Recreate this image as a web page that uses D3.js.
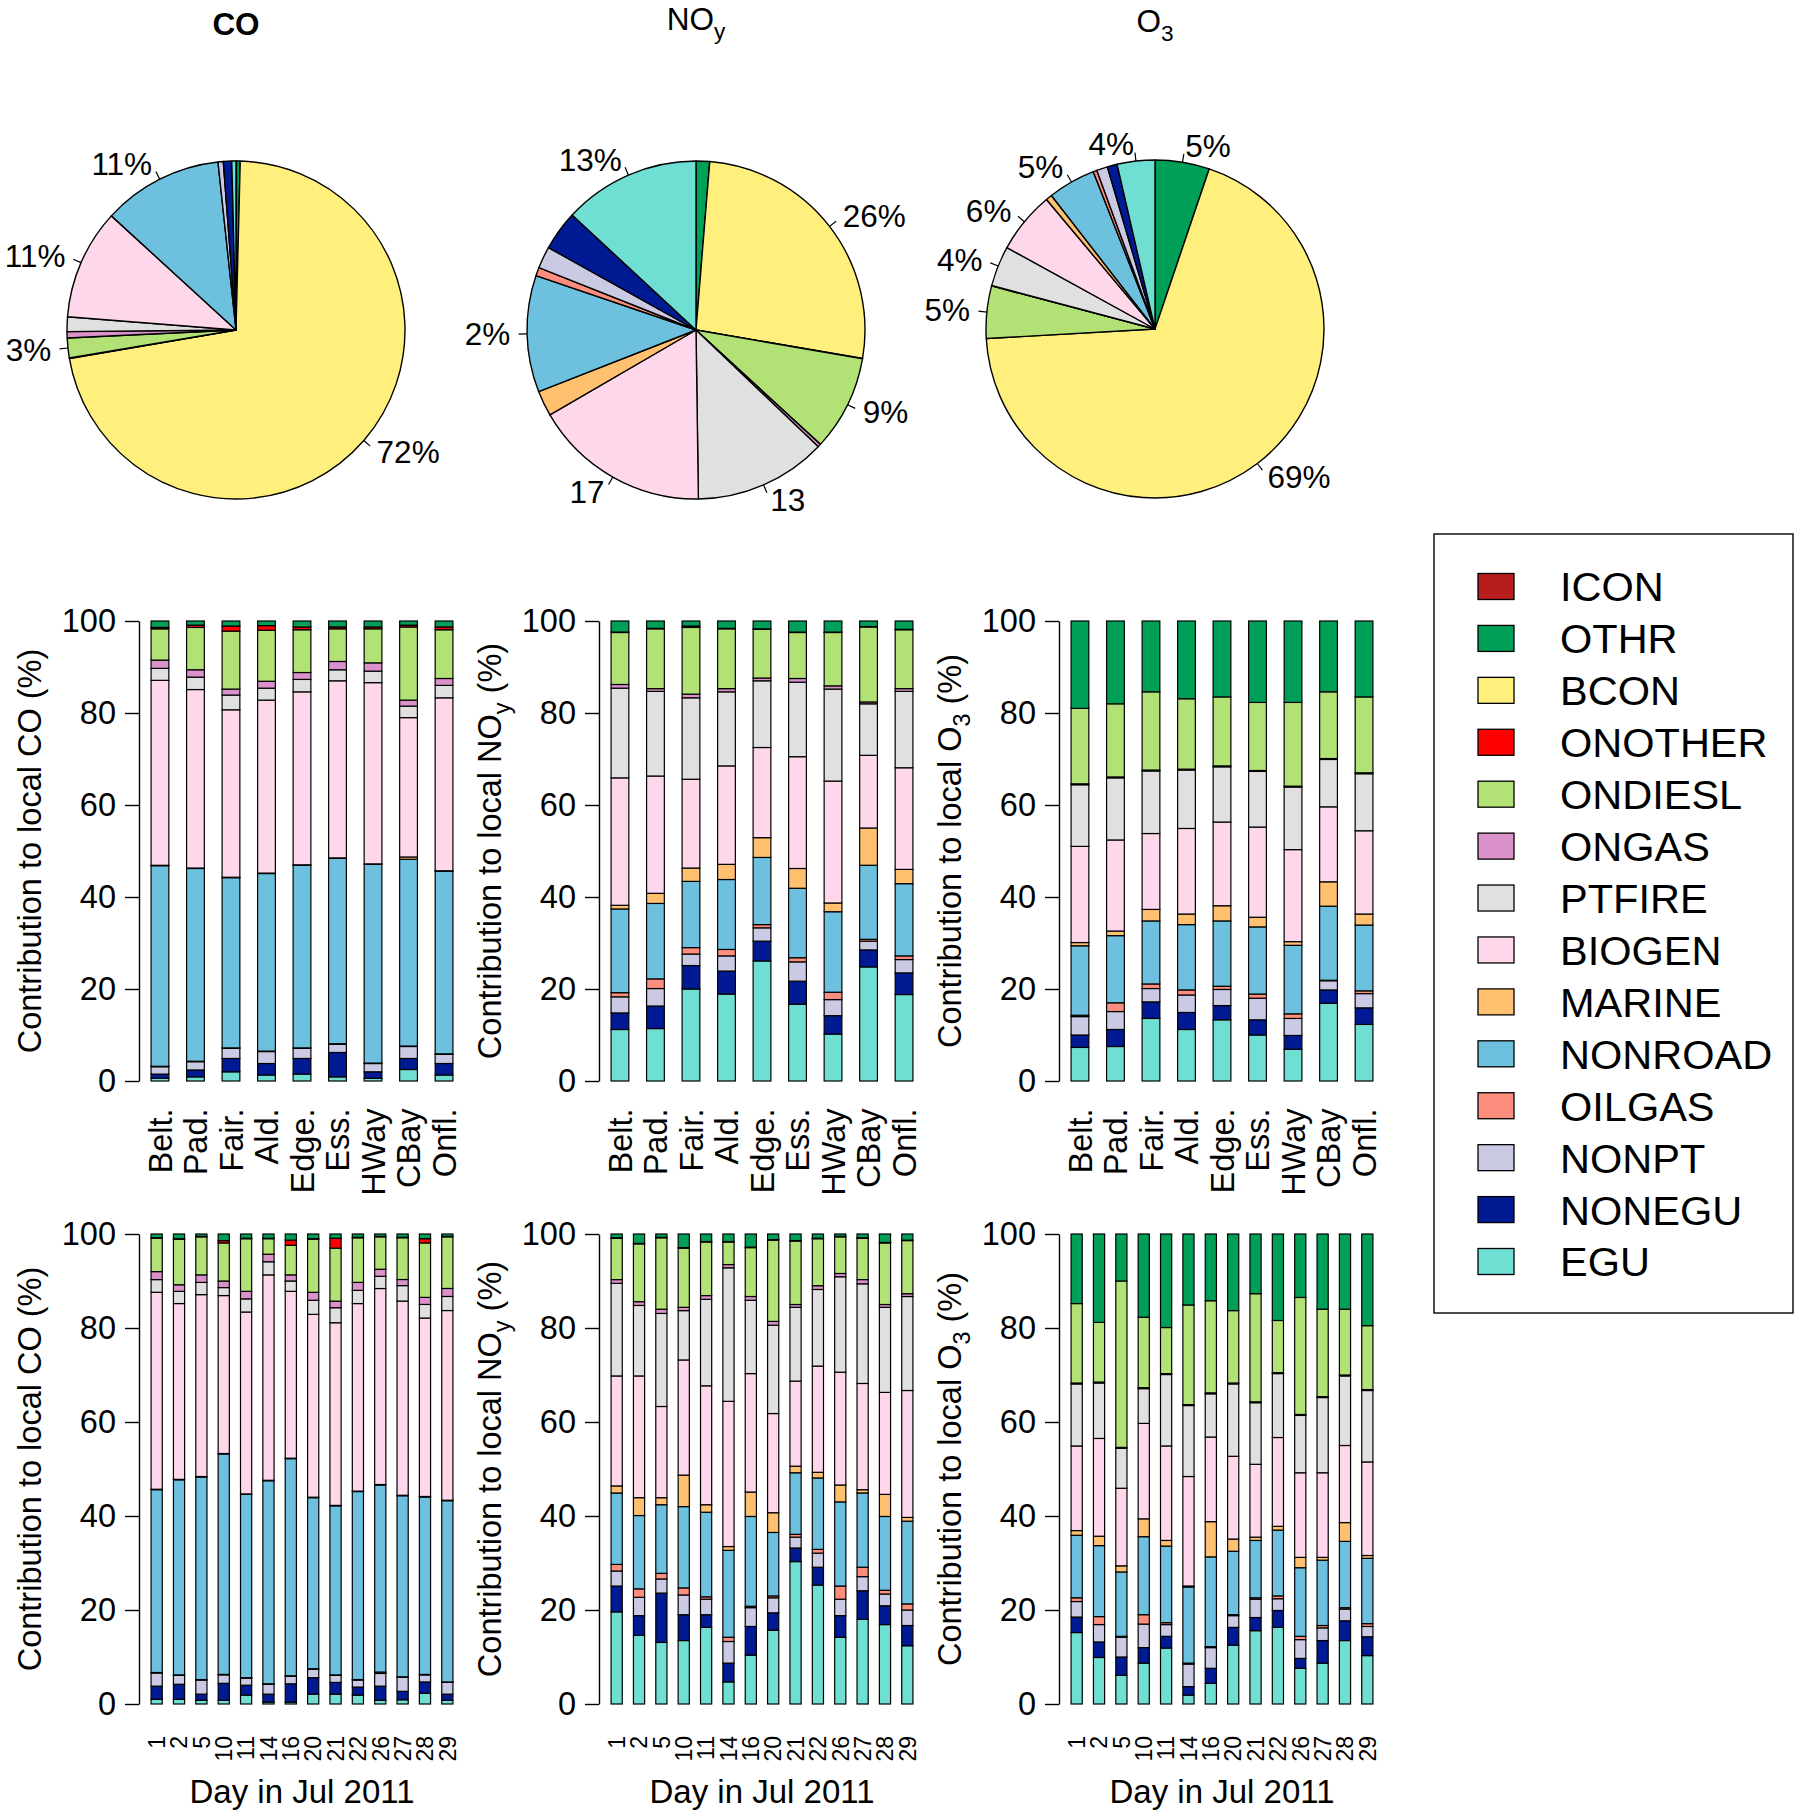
<!DOCTYPE html>
<html><head><meta charset="utf-8">
<script src="https://cdn.jsdelivr.net/npm/d3@7"></script>
<style>
body{margin:0;background:#fff}
svg{display:block}
text{font-family:"Liberation Sans",Arial,Helvetica,sans-serif;fill:#000}
</style>
</head><body>
<svg id="c" width="1800" height="1816"></svg>
<script>
// ---------- categories ----------
const sources = ["ICON","OTHR","BCON","ONOTHER","ONDIESL","ONGAS","PTFIRE","BIOGEN","MARINE","NONROAD","OILGAS","NONPT","NONEGU","EGU"];
const sourceColors = ["#B81D1D","#009F58","#FFEF7C","#FF0000","#B2E276","#DB92CB","#E0E0E0","#FFD7EA","#FFC06F","#6DC1DF","#FD8D7D","#CBCAE4","#001A94","#70DFD3"];
const stackKeys = ["EGU","NONEGU","NONPT","OILGAS","NONROAD","MARINE","BIOGEN","PTFIRE","ONGAS","ONDIESL","ONOTHER","OTHR"];
const sites = ["Belt.","Pad.","Fair.","Ald.","Edge.","Ess.","HWay","CBay","Onfl."];
const days = ["1","2","5","10","11","14","16","20","21","22","26","27","28","29"];
const yTicks = [0,20,40,60,80,100];

// ---------- pie values (order = sources) ----------
const pieCO  = [0.05,0.35,71.9,0.05,1.9,0.6,1.4,10.55,0,11.5,0,0.5,0.8,0.4];
const pieCOLabels  = ["","","72%","","3%","","","11%","","11%","","","",""];
const pieNOy = [0,1.3,26.4,0.05,9.1,0.3,12.65,16.85,2.45,11.15,0.8,2.1,3.8,13.1];
const pieNOyLabels = ["","","26%","","9%","","13","17","","2%","","","","13%"];
const pieO3  = [0,5.2,68.9,0,5.0,0.05,3.85,5.9,0.6,4.55,0.35,1.05,0.95,3.6];
const pieO3Labels  = ["","5%","69%","","5%","","4%","6%","","5%","","","","4%"];

// ---------- bar values: one row per bar, columns in stackKeys order ----------
const coSiteRows = [
 [0.6,0.9,1.6,0.1,43.6,0.1,40.2,2.6,1.8,6.8,0.3,1.4],
 [0.9,1.5,1.8,0.1,41.9,0.1,38.8,2.7,1.6,9.2,0.5,0.9],
 [2.0,2.9,2.2,0.1,37.0,0.1,36.4,3.2,1.3,12.6,1.1,1.1],
 [1.3,2.5,2.6,0.1,38.6,0.1,37.6,2.6,1.5,11.1,1.0,1.0],
 [1.5,3.4,2.2,0.1,39.7,0.1,37.6,2.7,1.5,9.3,0.6,1.3],
 [0.9,5.3,1.8,0.1,40.3,0.1,38.5,2.4,1.8,7.1,0.4,1.3],
 [0.6,1.4,1.8,0.1,43.2,0.1,39.4,2.5,1.8,7.4,0.4,1.3],
 [2.5,2.4,2.6,0.1,40.6,0.5,30.3,2.5,1.3,15.9,0.4,0.9],
 [1.3,2.5,2.0,0.1,39.7,0.1,37.6,2.7,1.5,10.6,0.6,1.3]
];
const noySiteRows = [
 [11.2,3.6,3.5,0.9,18.2,0.8,27.7,19.5,0.8,11.3,0.1,2.4],
 [11.4,4.9,3.8,2.1,16.4,2.2,25.5,18.4,0.6,13.0,0.1,1.6],
 [20.0,5.1,2.5,1.4,14.4,2.9,19.3,17.7,0.8,14.5,0.3,1.1],
 [18.9,5.0,3.3,1.4,15.2,3.3,21.4,16.1,0.7,13.0,0.1,1.6],
 [26.1,4.3,2.9,0.7,14.6,4.3,19.6,14.5,0.6,10.6,0.1,1.7],
 [16.7,5.0,4.2,0.9,15.1,4.3,24.3,16.2,0.8,10.0,0.1,2.4],
 [10.2,4.0,3.5,1.6,17.5,1.9,26.5,20.0,0.7,11.6,0.1,2.4],
 [24.8,3.7,1.9,0.4,16.1,8.1,15.8,11.2,0.4,16.3,0.1,1.2],
 [18.8,4.7,2.9,0.8,15.7,3.1,22.1,16.6,0.6,12.8,0.1,1.8]
];
const o3SiteRows = [
 [7.3,2.7,4.0,0.3,15.1,0.7,20.9,13.4,0.2,16.4,0,19.0],
 [7.5,3.7,3.9,1.9,14.6,1.0,19.8,13.5,0.2,15.9,0,18.0],
 [13.6,3.6,2.9,1.0,13.7,2.5,16.5,13.6,0.2,17.0,0,15.4],
 [11.2,3.7,3.8,1.1,14.2,2.3,18.6,12.7,0.2,15.3,0,16.9],
 [13.3,3.1,3.5,0.7,14.2,3.3,18.2,12.0,0.2,15.0,0,16.5],
 [10.0,3.3,4.7,0.9,14.6,2.1,19.6,12.1,0.2,14.8,0,17.7],
 [6.9,3.0,3.7,1.0,14.9,0.8,20.0,13.6,0.2,18.2,0,17.7],
 [16.9,2.9,2.0,0.1,16.1,5.3,16.3,10.3,0.2,14.5,0,15.4],
 [12.3,3.6,3.1,0.6,14.3,2.4,18.1,12.4,0.2,16.5,0,16.5]
];
const coDayRows = [
 [1.0,2.8,2.8,0.1,38.9,0.1,41.9,2.7,1.7,7.1,0.1,0.8],
 [1.0,3.2,1.9,0.1,41.5,0.1,37.4,2.6,1.4,9.7,0.1,1.0],
 [0.8,1.3,3.0,0.1,43.1,0.1,38.7,2.6,1.6,8.1,0.1,0.5],
 [0.8,3.6,1.8,0.1,46.9,0.1,33.6,1.7,1.4,8.1,0.5,1.4],
 [1.9,2.1,1.5,0.1,39.0,0.1,38.7,2.8,1.6,11.2,0.1,0.9],
 [0.4,1.7,2.1,0.1,43.2,0.1,43.7,2.8,1.6,3.3,0.1,0.9],
 [0.4,3.9,1.6,0.1,46.2,0.1,35.5,2.2,1.3,6.3,1.1,1.3],
 [2.1,3.5,1.8,0.1,36.4,0.1,38.9,3.0,1.7,11.3,0.1,1.0],
 [2.1,2.5,1.5,0.1,36.0,0.1,38.9,3.2,1.4,11.3,2.1,0.9],
 [1.9,1.7,1.5,0.1,40.0,0.1,39.9,2.8,1.7,9.5,0.1,0.7],
 [0.8,3.0,2.7,0.3,39.8,0.1,41.7,2.6,1.5,6.9,0.1,0.5],
 [0.9,1.8,3.0,0.1,38.6,0.1,41.4,3.3,1.3,8.9,0.1,0.7],
 [2.3,2.4,1.5,0.1,37.8,0.1,38.0,2.9,1.5,11.6,0.9,1.0],
 [0.8,1.3,2.5,0.1,38.6,0.1,40.4,3.0,1.7,11.0,0.1,0.5]
];
const noyDayRows = [
 [19.6,5.5,3.2,1.4,15.2,1.5,23.4,19.7,0.8,8.8,0.1,0.8],
 [14.6,4.2,3.9,1.8,15.6,3.8,25.9,15.0,0.8,12.3,0.1,2.0],
 [13.1,10.5,3.0,1.2,14.6,1.5,19.4,19.8,0.9,15.2,0.1,0.7],
 [13.5,5.5,4.2,1.5,17.3,6.7,24.5,10.5,0.7,12.6,0.1,2.9],
 [16.3,2.7,3.3,0.5,18.0,1.6,25.3,18.4,0.8,11.4,0.1,1.6],
 [4.7,4.0,4.6,0.9,18.5,0.8,30.9,28.4,0.7,4.8,0.1,1.6],
 [10.4,6.1,4.0,0.3,19.1,5.2,25.2,15.6,0.8,10.4,0.1,2.8],
 [15.7,3.7,3.2,0.4,13.5,4.2,21.1,18.8,0.8,17.3,0.1,1.2],
 [30.3,2.9,2.3,0.6,13.1,1.4,18.1,15.7,0.6,13.5,0.1,1.4],
 [25.3,3.8,3.0,0.8,15.2,1.2,22.6,16.3,0.8,10.0,0.1,0.9],
 [14.2,4.6,3.5,2.8,17.9,3.6,24.0,20.3,0.7,7.8,0.1,0.5],
 [18.0,6.1,3.0,2.0,15.8,0.7,22.6,21.2,0.9,8.8,0.1,0.8],
 [16.9,4.0,2.5,0.8,15.7,4.7,21.7,18.1,0.6,13.1,0.1,1.8],
 [12.4,4.3,3.3,1.3,17.6,0.8,27.0,20.0,0.6,11.3,0.1,1.3]
];
const o3DayRows = [
 [15.2,3.3,3.3,0.8,13.3,1.0,18.0,13.2,0.2,16.9,0,14.8],
 [9.9,3.3,3.7,1.7,15.1,2.0,20.8,11.8,0.2,12.7,0,18.8],
 [6.1,3.9,4.2,0.2,13.7,1.3,16.5,8.5,0.2,35.4,0,10.0],
 [8.7,3.3,5.0,2.0,16.6,3.8,20.3,7.4,0.2,15.0,0,17.7],
 [11.9,2.5,2.5,0.4,16.3,1.2,20.1,15.2,0.2,9.8,0,19.9],
 [1.9,1.8,4.8,0.2,16.2,0.2,23.3,15.1,0.2,21.2,0,15.1],
 [4.4,3.2,4.4,0.2,19.1,7.5,18.0,9.2,0.2,19.6,0,14.2],
 [12.5,3.8,2.5,0.2,13.5,2.6,17.6,15.4,0.2,15.4,0,16.3],
 [15.6,2.8,3.9,0.3,12.2,0.7,15.5,13.1,0.2,23.0,0,12.7],
 [16.3,3.6,2.5,0.6,14.0,0.8,18.9,13.6,0.2,11.1,0,18.4],
 [7.6,2.1,4.0,0.7,14.6,2.2,18.0,12.2,0.2,24.9,0,13.5],
 [8.7,4.8,2.7,0.5,13.9,0.6,18.0,16.0,0.2,18.6,0,16.0],
 [13.5,4.2,2.5,0.3,14.1,4.0,16.4,14.8,0.2,14.0,0,16.0],
 [10.3,4.0,2.2,0.6,13.9,0.6,19.9,15.2,0.2,13.6,0,19.5]
];

// ---------- text pieces ----------
const ylabCO  = [["Contribution to local CO (%)",false]];
const ylabNOy = [["Contribution to local NO",false],["y",true],[" (%)",false]];
const ylabO3  = [["Contribution to local O",false],["3",true],[" (%)",false]];

// ---------- drawing ----------
const svg = d3.select("#c");
const color = d3.scaleOrdinal().domain(sources).range(sourceColors);
const colX = [139, 599, 1059];
const pieCX = [236, 696, 1155];
const PLOT_W = 326;
const FS = 32.5;

function rich(sel, parts, size) {
  parts.forEach(([t, sub], i) => {
    const ts = sel.append("tspan").text(t);
    if (sub) ts.attr("font-size", size * 0.72).attr("dy", size * 0.28);
    else if (i > 0 && parts[i - 1][1]) ts.attr("dy", -size * 0.28);
  });
}

function drawPie(vals, labels, cx, cy, titleParts, titleY, bold) {
  const r = 169;
  const arcs = d3.pie().sort(null).value(d => d)(vals);
  const arc = d3.arc().innerRadius(0).outerRadius(r);
  const g = svg.append("g").attr("transform", `translate(${cx},${cy})`);
  const items = arcs.map((a, i) => ({a, i}));
  g.selectAll("path").data(items.filter(d => d.a.value > 0)).join("path")
    .attr("d", d => arc(d.a))
    .attr("fill", d => color(sources[d.i]))
    .attr("stroke", "#000").attr("stroke-width", 1.4).attr("stroke-linejoin", "round");
  items.forEach(({a, i}) => {
    if (!labels[i]) return;
    const m = (a.startAngle + a.endAngle) / 2;
    const sx = Math.sin(m), sy = -Math.cos(m);
    g.append("line").attr("x1", r * sx).attr("y1", r * sy)
      .attr("x2", 1.05 * r * sx).attr("y2", 1.05 * r * sy)
      .attr("stroke", "#000").attr("stroke-width", 1.2);
    g.append("text").attr("x", 1.1 * r * sx).attr("y", 1.1 * r * sy)
      .attr("dy", "0.35em").attr("text-anchor", sx >= 0 ? "start" : "end")
      .attr("font-size", 31.5).text(labels[i]);
  });
  const t = svg.append("text").attr("x", cx).attr("y", titleY)
    .attr("text-anchor", "middle").attr("font-size", 31.5)
    .attr("font-weight", bold ? "bold" : "normal");
  rich(t, titleParts, 31.5);
}

function drawBars(rows, cats, ax, yTop, yBot, padOuter, catSize, catGap, ylab) {
  const g = svg.append("g");
  const x = d3.scaleBand().domain(cats).range([ax, ax + PLOT_W]).paddingInner(0.5).paddingOuter(padOuter);
  const y = d3.scaleLinear().domain([0, 100]).range([yBot, yTop]);
  const data = rows.map((r, i) => {
    const s = d3.sum(r);
    const o = {cat: cats[i]};
    stackKeys.forEach((k, j) => { o[k] = r[j] * 100 / s; });
    return o;
  });
  const series = d3.stack().keys(stackKeys)(data);
  g.selectAll("g.s").data(series).join("g").attr("class", "s")
    .attr("fill", d => color(d.key))
    .selectAll("rect").data(d => d).join("rect")
    .attr("x", d => x(d.data.cat)).attr("width", x.bandwidth())
    .attr("y", d => y(d[1])).attr("height", d => Math.max(0, y(d[0]) - y(d[1])))
    .attr("stroke", "#000").attr("stroke-width", 1.2);
  const ag = g.append("g").attr("transform", `translate(${ax},0)`)
    .call(d3.axisLeft(y).tickValues(yTicks).tickSize(14).tickSizeOuter(0).tickPadding(9).tickFormat(d3.format("d")));
  ag.select(".domain").attr("stroke-width", 1.4);
  ag.selectAll(".tick line").attr("stroke-width", 1.4);
  ag.selectAll("text").attr("font-size", FS).attr("fill", "#000")
    .attr("font-family", '"Liberation Sans",Arial,Helvetica,sans-serif');
  g.selectAll("text.cat").data(cats).join("text").attr("class", "cat")
    .attr("transform", d => `translate(${x(d) + x.bandwidth() / 2},${yBot + catGap}) rotate(-90)`)
    .attr("text-anchor", "end").attr("dy", "0.36em")
    .attr("font-size", catSize).text(d => d);
  const yl = g.append("text")
    .attr("transform", `translate(${ax - 98},${(yTop + yBot) / 2}) rotate(-90)`)
    .attr("text-anchor", "middle").attr("font-size", FS);
  rich(yl, ylab, FS);
  return x;
}

// pies
drawPie(pieCO, pieCOLabels, pieCX[0], 330, [["CO", false]], 35, true);
drawPie(pieNOy, pieNOyLabels, pieCX[1], 330, [["NO", false], ["y", true]], 30, false);
drawPie(pieO3, pieO3Labels, pieCX[2], 329, [["O", false], ["3", true]], 32, false);

// site bars
drawBars(coSiteRows, sites, colX[0], 621, 1081, 0.34, FS, 27.5, ylabCO);
drawBars(noySiteRows, sites, colX[1], 621, 1081, 0.34, FS, 27.5, ylabNOy);
drawBars(o3SiteRows, sites, colX[2], 621, 1081, 0.34, FS, 27.5, ylabO3);

// day bars
drawBars(coDayRows, days, colX[0], 1234, 1704, 0.54, 23, 32, ylabCO);
drawBars(noyDayRows, days, colX[1], 1234, 1704, 0.54, 23, 32, ylabNOy);
drawBars(o3DayRows, days, colX[2], 1234, 1704, 0.54, 23, 32, ylabO3);
colX.forEach(ax => {
  svg.append("text").attr("x", ax + PLOT_W / 2).attr("y", 1803)
    .attr("text-anchor", "middle").attr("font-size", 33).text("Day in Jul 2011");
});

// legend
const lg = svg.append("g");
lg.append("rect").attr("x", 1434).attr("y", 534).attr("width", 359).attr("height", 779)
  .attr("fill", "none").attr("stroke", "#000").attr("stroke-width", 1.4);
const rowY = d3.scalePoint().domain(sources).range([586.5, 1261.5]);
lg.selectAll("rect.sw").data(sources).join("rect").attr("class", "sw")
  .attr("x", 1478).attr("y", d => rowY(d) - 13).attr("width", 36).attr("height", 26)
  .attr("fill", d => color(d)).attr("stroke", "#000").attr("stroke-width", 1.3);
lg.selectAll("text").data(sources).join("text")
  .attr("x", 1560).attr("y", d => rowY(d)).attr("dy", "0.36em")
  .attr("font-size", 41.5).text(d => d);
</script>
</body></html>
